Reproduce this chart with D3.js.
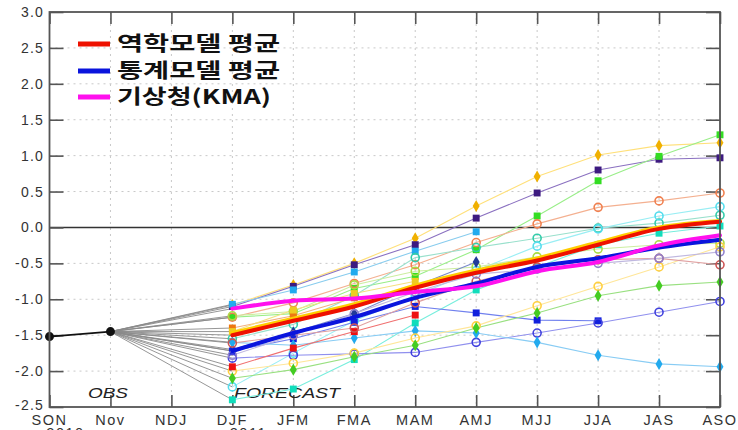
<!DOCTYPE html>
<html><head><meta charset="utf-8">
<script src="https://cdn.jsdelivr.net/npm/d3@7"></script>
<style>body{margin:0;background:#fff}svg{display:block}</style>
</head><body>
<svg id="c" width="738" height="430"></svg>
<script>
const categories = ["SON","Nov","NDJ","DJF","JFM","FMA","MAM","AMJ","MJJ","JJA","JAS","ASO"];
const yTicks = [-2.5,-2.0,-1.5,-1.0,-0.5,0.0,0.5,1.0,1.5,2.0,2.5,3.0];
const yearLabels = [["SON","2010"],["DJF","2011"]];
const obsCats = ["SON","Nov"];
const obsValues = [-1.52, -1.45];
const fcCats = ["DJF","JFM","FMA","MAM","AMJ","MJJ","JJA","JAS","ASO"];

// individual models (DJF..ASO)
const goldDiamond   = [-1.08,-0.80,-0.50,-0.15, 0.30, 0.71, 1.01, 1.14, 1.18];
const purpleSquare  = [-1.10,-0.82,-0.52,-0.24, 0.13, 0.48, 0.80, 0.95, 0.97];
const greenSquare   = [-1.25,-1.20,-0.85,-0.68,-0.31, 0.16, 0.65, 0.99, 1.29];
const skySquare     = [-1.07,-0.87,-0.62,-0.33,-0.06, null, null, null, null];
const orangeCircle  = [-1.25,-1.05,-0.78,-0.52,-0.21, 0.05, 0.28, 0.37, 0.48];
const tealCircle    = [-1.55,-1.35,-0.95,-0.42,-0.28,-0.15,-0.01, 0.06, 0.17];
const cyanCircle    = [-2.22,-1.75,-1.30,-0.95,-0.60,-0.26,-0.02, 0.16, 0.29];
const limeCircle    = [-1.23,-1.17,-0.80,-0.61,-0.55,-0.41,-0.30,-0.24,-0.22];
const tealSquare    = [-2.40,-2.25,-1.84,-1.33,-0.87,-0.55,-0.24,-0.08, 0.02];
const navyDiamond   = [-1.70,-1.46,-1.20,-0.82,-0.48, null, null, null, null];
const blueSquare    = [-1.72,-1.55,-1.32,-1.10,-1.19,-1.29,-1.30, null, null];
const blueCircle    = [-1.82,-1.78,-1.76,-1.74,-1.60,-1.47,-1.33,-1.18,-1.03];
const skyDiamond    = [-1.60,-1.64,-1.54,-1.44,-1.47,-1.60,-1.78,-1.90,-1.94];
const yellowCircle  = [-2.00,-1.89,-1.75,-1.54,-1.37,-1.09,-0.82,-0.55,-0.27];
const greenDiamond  = [-2.10,-1.98,-1.80,-1.64,-1.40,-1.19,-0.95,-0.81,-0.76];
const redSquare     = [-1.94,-1.68,-1.45,-1.22, null, null, null, null, null];
const roseCircle    = [-1.61,-1.50,-1.40,-1.05,-0.75,-0.55,-0.45,-0.43,-0.52];
const lavCircle     = [-1.78,-1.50,-1.20,-0.90,-0.65,-0.58,-0.50,-0.43,-0.34];
const orangeSquare  = [-1.40,-1.23,-0.98, null, null, null, null, null, null];
const yellowSquare  = [-1.45,-1.15,-0.92,-0.75, null, null, null, null, null];

// averages
const dynAvg   = [-1.50,-1.30,-1.10,-0.84,-0.63,-0.46,-0.24,-0.02, 0.08];
const dynAvg2  = [-1.47,-1.27,-1.07,-0.81,-0.60,-0.43,-0.21, 0.00, 0.09];
const statAvg  = [-1.72,-1.47,-1.25,-0.98,-0.78,-0.55,-0.43,-0.28,-0.17];
const kmaVals  = [-1.13,-1.02,-0.99,-0.90,-0.82,-0.61,-0.48,-0.25,-0.11];

const legendLabels = ["역학모델 평균","통계모델 평균","기상청(KMA)"];

const models = [
  [goldDiamond, {c:"#f0b000", l:"#ffe07a", m:"d"}],
  [purpleSquare,{c:"#3d1a80", l:"#8a70c0", m:"s"}],
  [greenSquare, {c:"#33dd22", l:"#99ee88", m:"s"}],
  [skySquare,   {c:"#22aaee", l:"#88ccee", m:"s"}],
  [orangeCircle,{c:"#f08050", l:"#f4b090", m:"o"}],
  [tealCircle,  {c:"#33ccaa", l:"#99e0cc", m:"o"}],
  [cyanCircle,  {c:"#55ddee", l:"#99eef4", m:"o"}],
  [limeCircle,  {c:"#aadd44", l:"#cceea0", m:"o"}],
  [tealSquare,  {c:"#11ddbb", l:"#77eedd", m:"s"}],
  [navyDiamond, {c:"#223a99", l:"#7788cc", m:"d"}],
  [blueSquare,  {c:"#1020dd", l:"#7080ee", m:"s"}],
  [blueCircle,  {c:"#4040dd", l:"#9090ee", m:"o"}],
  [skyDiamond,  {c:"#22aaee", l:"#88ccf4", m:"d"}],
  [yellowCircle,{c:"#ffd040", l:"#ffe699", m:"o"}],
  [greenDiamond,{c:"#44cc22", l:"#99e080", m:"d"}],
  [redSquare,   {c:"#ee1111", l:"#f07070", m:"s"}],
  [roseCircle,  {c:"#cc5555", l:"#e0a0a0", m:"o"}],
  [lavCircle,   {c:"#9080cc", l:"#c0b8e0", m:"o"}],
  [orangeSquare,{c:"#ee7711", l:"#f4b080", m:"s"}],
  [yellowSquare,{c:"#eecc22", l:"#f4e080", m:"s"}]
];

const svg = d3.select("#c");
const W = 738, H = 430;
const x = d3.scalePoint().domain(categories).range([49.5, 720]);
const y = d3.scaleLinear().domain([-2.5, 3.0]).range([407, 12]);
const L = x.range()[0], R = x.range()[1], T = y(3.0), B = y(-2.5);

svg.append("rect").attr("width",W).attr("height",H).attr("fill","#fff");

// grid
const g = svg.append("g");
g.selectAll(".gy").data(yTicks.filter(v => v !== 0 && v !== 3.0 && v !== -2.5)).join("line")
  .attr("x1",L).attr("x2",R).attr("y1",d=>y(d)).attr("y2",d=>y(d))
  .attr("stroke","#c8c8c8").attr("stroke-dasharray","2,4").attr("stroke-width",1);
g.selectAll(".gx").data(categories.slice(1, -1)).join("line")
  .attr("x1",d=>x(d)).attr("x2",d=>x(d)).attr("y1",T).attr("y2",B)
  .attr("stroke","#c8c8c8").attr("stroke-dasharray","2,4").attr("stroke-width",1);

// zero line
svg.append("line").attr("x1",L).attr("x2",R).attr("y1",y(0)).attr("y2",y(0))
  .attr("stroke","#333").attr("stroke-width",1.6);

// axes via d3 axis (inner ticks)
const fnt = "'Liberation Sans', Arial, sans-serif";
const yAxL = svg.append("g").attr("transform",`translate(${L},0)`)
  .call(d3.axisRight(y).tickValues(yTicks).tickSize(14).tickFormat(""));
const yAxR = svg.append("g").attr("transform",`translate(${R},0)`)
  .call(d3.axisLeft(y).tickValues(yTicks).tickSize(14).tickFormat(""));
const xAxB = svg.append("g").attr("transform",`translate(0,${B})`)
  .call(d3.axisTop(x).tickSize(12).tickFormat(""));
const xAxT = svg.append("g").attr("transform",`translate(0,${T})`)
  .call(d3.axisBottom(x).tickSize(12).tickFormat(""));
[yAxL,yAxR,xAxB,xAxT].forEach(a => {
  a.select(".domain").remove();
  a.selectAll(".tick line").attr("stroke","#555").attr("stroke-width",1.6);
});

// tick labels
svg.append("g").selectAll("text").data(yTicks).join("text")
  .attr("x",44).attr("y",d=>y(d)+ (d === -2.5 ? 3 : 5)).attr("text-anchor","end")
  .attr("font-family",fnt).attr("font-size",14).attr("letter-spacing",1.2)
  .attr("fill","#333").text(d=>d.toFixed(1));
svg.append("g").selectAll("text").data(categories).join("text")
  .attr("x",d=>x(d)).attr("y",425).attr("text-anchor","middle")
  .attr("font-family",fnt).attr("font-size",14.5).attr("letter-spacing",1.5)
  .attr("fill","#333").text(d=>d);
svg.append("g").selectAll("text").data(yearLabels).join("text")
  .attr("x",d=>x(d[0])+16).attr("y",438).attr("text-anchor","middle")
  .attr("font-family",fnt).attr("font-size",14.5).attr("letter-spacing",1.5)
  .attr("fill","#333").text(d=>d[1]);

// OBS / FORECAST labels
svg.append("text").attr("x",88).attr("y",398).attr("font-family",fnt)
  .attr("font-style","italic").attr("font-size",15).attr("fill","#222")
  .attr("textLength",40).attr("lengthAdjust","spacingAndGlyphs").text("OBS");
svg.append("text").attr("x",234).attr("y",398).attr("font-family",fnt)
  .attr("font-style","italic").attr("font-size",15).attr("fill","#222")
  .attr("textLength",106).attr("lengthAdjust","spacingAndGlyphs").text("FORECAST");

// connectors from Nov to each DJF start
const nx = x("Nov"), ny = y(obsValues[1]);
const starts = models.map(m => m[0][0]).concat([dynAvg[0], statAvg[0], kmaVals[0]]);
svg.append("g").selectAll("line").data(starts).join("line")
  .attr("x1",nx).attr("y1",ny).attr("x2",x("DJF")).attr("y2",d=>y(d))
  .attr("stroke","#8a8a8a").attr("stroke-width",0.9);

// model lines
const line = d3.line().defined(d => d[1] != null).x(d=>x(d[0])).y(d=>y(d[1]));
const pts = vals => fcCats.map((c,i)=>[c, vals[i]]);
const ml = svg.append("g");
models.forEach(([vals, st]) => {
  ml.append("path").attr("d", line(pts(vals))).attr("fill","none")
    .attr("stroke", st.l).attr("stroke-width",1.1);
});
// markers
const mk = svg.append("g");
models.forEach(([vals, st]) => {
  pts(vals).filter(p => p[1] != null).forEach(p => {
    const cx = x(p[0]), cy = y(p[1]);
    if (st.m === "o") {
      mk.append("circle").attr("cx",cx).attr("cy",cy).attr("r",4)
        .attr("fill","none").attr("stroke",st.c).attr("stroke-width",1.6);
    } else {
      const sym = st.m === "s" ? d3.symbolSquare : d3.symbolDiamond;
      mk.append("path").attr("transform",`translate(${cx},${cy})`)
        .attr("d", d3.symbol().type(sym).size(st.m === "s" ? 48 : 42)()).attr("fill",st.c);
    }
  });
});

// thick averages
const sm = d3.line().curve(d3.curveCatmullRom.alpha(0.5)).x(d=>x(d[0])).y(d=>y(d[1]));
const thick = [[dynAvg2,"#ffcc00",4],[dynAvg,"#ee1100",4],[statAvg,"#0a14dd",4],[kmaVals,"#ff10ee",4]];
thick.forEach(([v,c,w]) => {
  svg.append("path").attr("d", sm(pts(v))).attr("fill","none")
    .attr("stroke",c).attr("stroke-width",w).attr("stroke-linecap","round");
});

// observations
const obsPts = obsCats.map((c,i)=>[c, obsValues[i]]);
svg.append("path").attr("d", line(obsPts)).attr("stroke","#111").attr("stroke-width",1.6).attr("fill","none");
svg.append("g").selectAll("circle").data(obsPts).join("circle")
  .attr("cx",d=>x(d[0])).attr("cy",d=>y(d[1])).attr("r",4.5).attr("fill","#111");

// frame
svg.append("rect").attr("x",L).attr("y",T).attr("width",R-L).attr("height",B-T)
  .attr("fill","none").attr("stroke","#555").attr("stroke-width",1.8);

// legend
const legColors = ["#ee1100","#0a14dd","#ff10ee"];
const legY = [44, 71, 97];
const legW = [163, 163, 154];
const lg = svg.append("g");
legendLabels.forEach((t,i) => {
  lg.append("line").attr("x1",78).attr("x2",110).attr("y1",legY[i]).attr("y2",legY[i])
    .attr("stroke",legColors[i]).attr("stroke-width",5);
  lg.append("text").attr("x",117).attr("y",legY[i]+7)
    .attr("font-family","'Noto Sans CJK KR', 'Noto Sans', sans-serif").attr("font-weight","bold")
    .attr("font-size",20).attr("fill","#111")
    .attr("textLength",legW[i]).attr("lengthAdjust","spacingAndGlyphs").text(t);
});
</script>
</body></html>
